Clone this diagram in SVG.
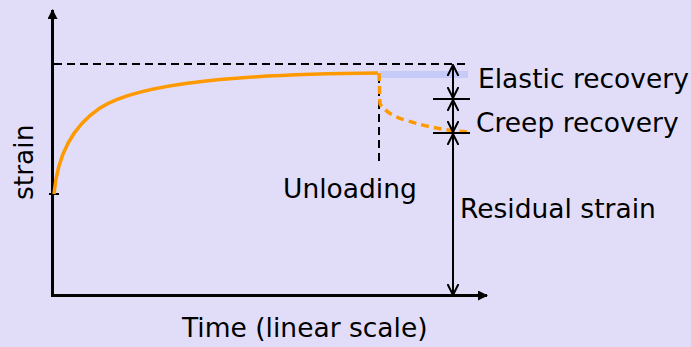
<svg xmlns="http://www.w3.org/2000/svg" width="691" height="347" viewBox="0 0 691 347">
<style>
text{font-family:"DejaVu Sans",Verdana,sans-serif;font-size:26.5px;fill:#000}
.ax{stroke:#000;stroke-width:3;fill:none}
.dim{stroke:#000;stroke-width:2;fill:none}
.dash{stroke:#000;stroke-width:2;stroke-dasharray:8 5;fill:none}
.cur{stroke:#FF9900;stroke-width:3.5;fill:none;stroke-linejoin:round;stroke-linecap:butt}
</style>
<defs>
<marker id="fa" viewBox="0 0 10 10" refX="9" refY="5" markerWidth="10" markerHeight="10" markerUnits="userSpaceOnUse" orient="auto"><path d="M0,0 L10,5 L0,10 Z" fill="#000"/></marker>
<marker id="va" viewBox="0 0 12 12" refX="11" refY="6" markerWidth="12" markerHeight="12" markerUnits="userSpaceOnUse" orient="auto-start-reverse"><path d="M0,0.5 L11,6 L0,11.5" fill="none" stroke="#000" stroke-width="2"/></marker>
</defs>
<rect width="691" height="347" fill="#E1DDF9"/>
<rect x="380" y="71" width="88" height="7" fill="#C6CAF7"/>
<g id="axes">
<line class="ax" x1="52.5" y1="297" x2="52.5" y2="10" marker-end="url(#fa)"/>
<line class="ax" x1="51" y1="295.5" x2="487" y2="295.5" marker-end="url(#fa)"/>
<line class="dim" x1="49" y1="194" x2="59" y2="194"/>
</g>
<g id="connectors">
<line class="dash" x1="54" y1="64" x2="465" y2="64"/>
<line class="dash" x1="379" y1="75" x2="379" y2="165"/>
<path class="cur" d="M54,194 C57,160 70,128 100,108 C140,81.5 250,74 378,73"/>
<path class="cur" stroke-dasharray="8 5" d="M379,73 L380,104 C385,111 392,116 405,120 C425,126 440,130 467,132"/>
<line class="dim" x1="433" y1="99" x2="470" y2="99"/>
<line class="dim" x1="433" y1="133" x2="470" y2="133"/>
<line class="dim" x1="453" y1="65" x2="453" y2="98" marker-start="url(#va)" marker-end="url(#va)"/>
<line class="dim" x1="453" y1="100" x2="453" y2="132" marker-start="url(#va)" marker-end="url(#va)"/>
<line class="dim" x1="453" y1="134" x2="453" y2="295" marker-start="url(#va)" marker-end="url(#va)"/>
</g>
<g id="labels">
<text x="478" y="88">Elastic recovery</text>
<text x="476" y="132">Creep recovery</text>
<text x="283" y="198">Unloading</text>
<text x="460" y="218">Residual strain</text>
<text x="182" y="337">Time (linear scale)</text>
<text transform="translate(33,200) rotate(-90)">strain</text>
</g>
</svg>
